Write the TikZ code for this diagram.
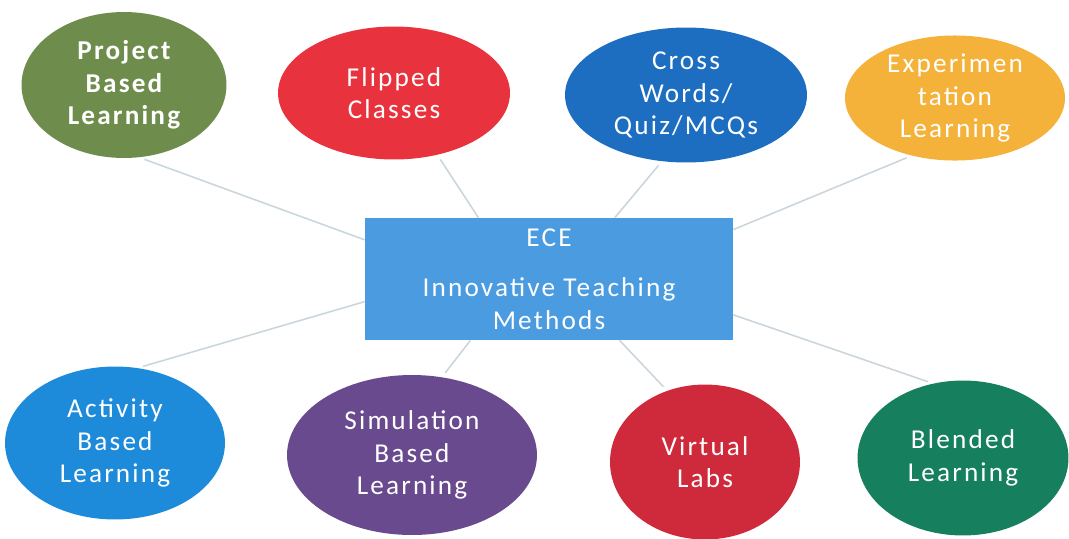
\documentclass[tikz,border=0pt]{standalone}
\usepackage{fontspec}
\setmainfont{Carlito}[LetterSpace=8]
\usetikzlibrary{shapes.geometric}
\definecolor{pblgreen}{HTML}{6E8C4B}
\definecolor{flipred}{HTML}{E8333F}
\definecolor{quizblue}{HTML}{1D6EC0}
\definecolor{exporange}{HTML}{F4B23A}
\definecolor{actblue}{HTML}{1E8BDA}
\definecolor{simpurple}{HTML}{6A4A8E}
\definecolor{labred}{HTML}{CF2A3B}
\definecolor{blendgreen}{HTML}{16805E}
\definecolor{hubblue}{HTML}{4A9BE0}
\definecolor{linkgray}{HTML}{CAD6DC}
\tikzset{
  method/.style={ellipse,inner sep=0pt,text=white,align=center,
    font=\fontsize{15.5}{18.5}\selectfont},
  link/.style={draw=linkgray,line width=0.9pt,shorten <=3pt}
}
\begin{document}
\begin{tikzpicture}[x=0.02cm,y=-0.02cm]
  \useasboundingbox (0,0) rectangle (1069,538);
  % centre box
  \node[fill=hubblue,text=white,align=center,minimum width=7.36cm,
    minimum height=2.44cm,font=\fontsize{15.5}{18.5}\selectfont]
    (hub) at (549,279) {ECE\\[10pt]Innovative Teaching\\Methods};
  % top row
  \node[method,fill=pblgreen,minimum width=4.1cm,minimum height=2.92cm,
    font=\bfseries\fontsize{15.5}{18.5}\selectfont]
    (pbl) at (124,85) {Project\\Based\\Learning};
  \node[method,fill=flipred,minimum width=4.64cm,minimum height=2.66cm]
    (flip) at (394,93) {Flipped\\Classes};
  \node[method,fill=quizblue,minimum width=4.84cm,minimum height=2.7cm]
    (quiz) at (686,95) {Cross\\Words/\\Quiz/MCQs};
  \node[method,fill=exporange,minimum width=4.4cm,minimum height=2.26cm]
    (exp) at (955,98) {Experimen\\tation\\Learning};
  % bottom row
  \node[method,fill=actblue,minimum width=4.4cm,minimum height=3.06cm]
    (act) at (115,443) {Activity\\Based\\Learning};
  \node[method,fill=simpurple,minimum width=5.0cm,minimum height=3.2cm]
    (sim) at (412,455) {Simulation\\Based\\Learning};
  \node[method,fill=labred,minimum width=3.8cm,minimum height=3.1cm]
    (lab) at (705,462) {Virtual\\Labs};
  \node[method,fill=blendgreen,minimum width=4.22cm,minimum height=3.1cm]
    (blend) at (963,458) {Blended\\Learning};
  % spokes
  \draw[link] (pbl.282) -- (hub.168);
  \draw[link] (flip.305) -- (hub.139);
  \draw[link] (quiz.250) -- (hub.43);
  \draw[link] (exp.233) -- (hub.15);
  \draw[link] (act.73) -- (hub.187);
  \draw[link] (sim.69) -- (hub.218);
  \draw[link] (lab.118) -- (hub.319);
  \draw[link] (blend.112) -- (hub.349);
\end{tikzpicture}
\end{document}
